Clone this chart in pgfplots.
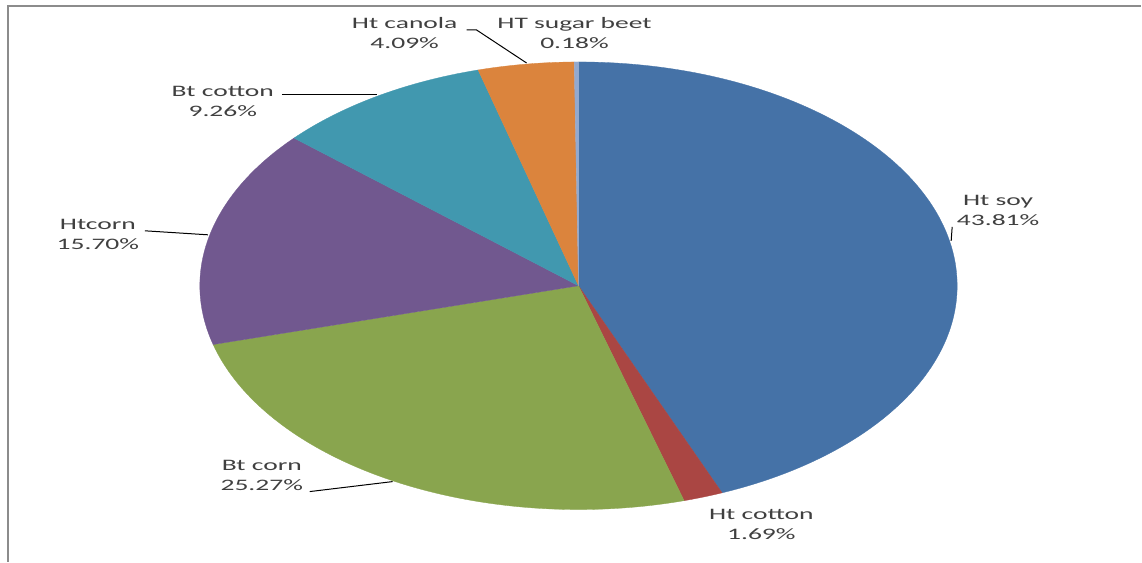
\documentclass[border=0pt]{standalone}
\usepackage{pgfplots}
\pgfplotsset{compat=1.18}
\usepackage{pgfplotstable}
\usepackage{fontspec}
\setmainfont{Carlito}
\definecolor{c0}{HTML}{4572A7}
\definecolor{c1}{HTML}{AA4643}
\definecolor{c2}{HTML}{89A54E}
\definecolor{c3}{HTML}{71588F}
\definecolor{c4}{HTML}{4198AF}
\definecolor{c5}{HTML}{DB843D}
\definecolor{c6}{HTML}{93A9CF}
\definecolor{txt}{HTML}{404040}
\pgfplotstableread{
name value
HtSoy 43.81
HtCotton 1.69
BtCorn 25.27
HtCorn 15.70
BtCotton 9.26
HtCanola 4.09
HTSugarBeet 0.18
}\pietable
\begin{document}
\begin{tikzpicture}[lbl/.style={align=center, text=txt, xscale=1.72, font=\fontsize{16}{20}\selectfont}]
\begin{axis}[x=1pt, y=1pt, xmin=0, xmax=1142, ymin=0, ymax=562, y dir=reverse,
  hide axis, clip=false, scale only axis]
\path[fill=white] (axis cs:0,0) rectangle (axis cs:1142,562);
\draw[black!45, line width=2pt] (axis cs:8,562) -- (axis cs:8,6) -- (axis cs:1142,6);
\gdef\startang{90}
\pgfplotstablegetrowsof{\pietable}
\pgfmathtruncatemacro\nrows{\pgfplotsretval-1}
\foreach \i in {0,...,\nrows} {
  \pgfplotstablegetelem{\i}{value}\of\pietable
  \pgfmathsetmacro\endang{\startang-3.6*\pgfplotsretval}
  \edef\temp{\noexpand\fill[c\i, draw=c\i, line width=0.3pt] (axis cs:579,286) -- ++(\startang:379pt and 224pt) arc[start angle=\startang, end angle=\endang, x radius=379pt, y radius=224pt] -- cycle;}
  \temp
  \global\let\startang\endang
}
% leader lines
\draw[black, line width=1pt] (axis cs:467,30) -- (axis cs:477,30) -- (axis cs:527,63);
\draw[black, line width=1pt] (axis cs:282,95) -- (axis cs:377,95);
\draw[black, line width=1pt] (axis cs:145,231) -- (axis cs:208,235);
\draw[black, line width=1pt] (axis cs:310,492) -- (axis cs:393,482);
\draw[black, line width=1pt] (axis cs:953,227) -- (axis cs:952,241);
% labels
\node[lbl] at (axis cs:405,33) {Ht canola\\4.09\%};
\node[lbl] at (axis cs:575,33) {HT sugar beet\\0.18\%};
\node[lbl] at (axis cs:223,102) {Bt cotton\\9.26\%};
\node[lbl] at (axis cs:98,235) {Htcorn\\15.70\%};
\node[lbl] at (axis cs:262,476) {Bt corn\\25.27\%};
\node[lbl] at (axis cs:762,525) {Ht cotton\\1.69\%};
\node[lbl] at (axis cs:999,211) {Ht soy\\43.81\%};
\end{axis}
\end{tikzpicture}
\end{document}
